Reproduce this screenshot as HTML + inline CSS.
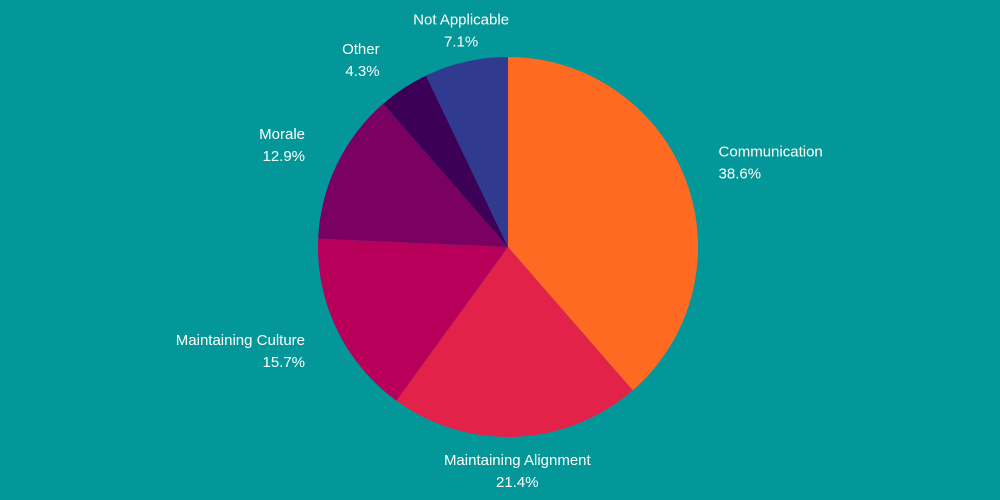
<!DOCTYPE html>
<html><head><meta charset="utf-8"><style>
html,body{margin:0;padding:0;background:#03979A;}
svg{display:block;font-family:"Liberation Sans",sans-serif;}
</style></head><body>
<svg id="chart" width="1000" height="500" viewBox="0 0 1000 500">
<rect width="1000" height="500" fill="#03979A"/>
<g id="slices"></g><g id="labels"></g>
</svg>
<script>
const categories = ["Communication","Maintaining Alignment","Maintaining Culture","Morale","Other","Not Applicable"];
const values = [38.6,21.4,15.7,12.9,4.3,7.1];
const valueLabels = ["38.6%","21.4%","15.7%","12.9%","4.3%","7.1%"];
const colors = ["#FF6A23","#E3224A","#B8005A","#7A0061","#3D0057","#303B8F"];
const cx=508, cy=247, r=190, lr=212;
const NS="http://www.w3.org/2000/svg";
const total=values.reduce((a,b)=>a+b,0);
const gS=document.getElementById('slices'), gL=document.getElementById('labels');
let acc=0;
function pt(a,rad){return [cx+rad*Math.sin(a), cy-rad*Math.cos(a)];}
values.forEach((v,i)=>{
  const a0=acc/total*2*Math.PI; acc+=v; const a1=acc/total*2*Math.PI;
  const [x0,y0]=pt(a0,r),[x1,y1]=pt(a1,r);
  const large=(a1-a0)>Math.PI?1:0;
  const p=document.createElementNS(NS,'path');
  p.setAttribute('d',`M${cx},${cy} L${x0},${y0} A${r},${r} 0 ${large} 1 ${x1},${y1} Z`);
  p.setAttribute('fill',colors[i]);
  
  
  gS.appendChild(p);
  const am=(a0+a1)/2; const [lx,ly]=pt(am,lr);
  const s=Math.sin(am);
  let anchor='middle', x=lx;
  if(s>0.3){anchor='start';x=lx+12;} else if(s<-0.3){anchor='end';x=lx-12;}
  let y=ly+(Math.cos(am)>0.3? -10 : Math.cos(am)<-0.3? 12 : 0);
  const t=document.createElementNS(NS,'text');
  t.setAttribute('text-anchor',anchor);
  t.setAttribute('fill','#ffffff');
  t.setAttribute('font-size','15');
  
  
  const t1=document.createElementNS(NS,'tspan');
  t1.setAttribute('x',x); t1.setAttribute('y',y-6); t1.textContent=categories[i];
  const t2=document.createElementNS(NS,'tspan');
  t2.setAttribute('x',x); t2.setAttribute('y',y+16); t2.textContent=valueLabels[i];
  t.appendChild(t1); t.appendChild(t2);
  gL.appendChild(t);
});
</script>
</body></html>
